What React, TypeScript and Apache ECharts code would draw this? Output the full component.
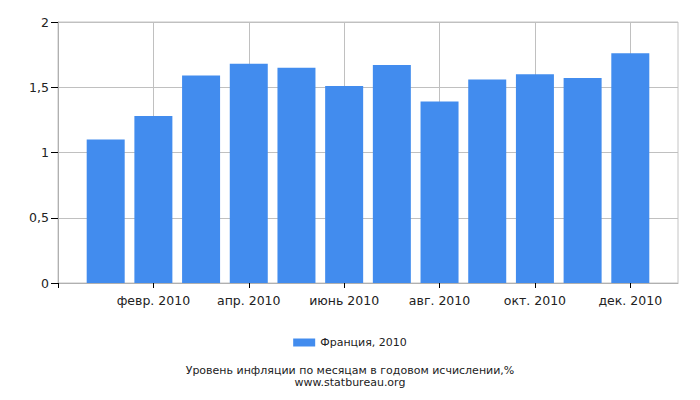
import { useEffect, useRef } from 'react';
import * as echarts from 'echarts';

// ─── Data ─────────────────────────────────────────────────────────────────────

// empty slot at each end so the axis is padded by one month on both sides
const monthLabels = [
  '',
  'янв. 2010',
  'февр. 2010',
  'март 2010',
  'апр. 2010',
  'май 2010',
  'июнь 2010',
  'июль 2010',
  'авг. 2010',
  'сент. 2010',
  'окт. 2010',
  'нояб. 2010',
  'дек. 2010',
  '',
];

const inflationValues = [
  null, 1.1, 1.28, 1.59, 1.68, 1.65, 1.51, 1.67, 1.39, 1.56, 1.6, 1.57, 1.76, null,
];

const yTicks = { min: 0, max: 2, step: 0.5 };

const seriesName = 'Франция, 2010';
const captionTitle = 'Уровень инфляции по месяцам в годовом исчислении,%';
const captionSource = 'www.statbureau.org';

// ─── Option ───────────────────────────────────────────────────────────────────

const FONT = '"DejaVu Sans", Verdana, sans-serif';

function buildOption(): echarts.EChartsOption {
  return {
    animation: false,
    backgroundColor: '#fff',
    textStyle: { fontFamily: FONT },
    grid: {
      left: 58,
      right: 22,
      top: 22,
      bottom: 117,
      show: true,
      borderColor: '#c4c4c4',
      borderWidth: 1,
    },
    legend: {
      data: [seriesName],
      top: 332,
      left: 'center',
      icon: 'rect',
      itemWidth: 22,
      itemHeight: 8,
      itemGap: 4,
      textStyle: { fontFamily: FONT, fontSize: 11, color: '#222' },
    },
    graphic: [
      {
        type: 'text',
        left: 'center',
        top: 365,
        style: { text: captionTitle, font: `11px ${FONT}`, fill: '#222' },
      },
      {
        type: 'text',
        left: 'center',
        top: 377,
        style: { text: captionSource, font: `11px ${FONT}`, fill: '#222' },
      },
    ],
    xAxis: {
      type: 'category',
      data: monthLabels,
      boundaryGap: false,
      axisLine: { lineStyle: { color: '#b0b0b0' } },
      axisTick: { interval: 1, length: 5, lineStyle: { color: '#000' } },
      axisLabel: {
        interval: 1,
        margin: 11,
        fontSize: 12.5,
        color: '#222',
        fontFamily: FONT,
      },
      splitLine: { show: true, interval: 1, lineStyle: { color: '#c0c0c0' } },
    },
    yAxis: {
      type: 'value',
      min: yTicks.min,
      max: yTicks.max,
      interval: yTicks.step,
      axisLine: { show: true, lineStyle: { color: '#b0b0b0' } },
      axisTick: { show: true, length: 7, lineStyle: { color: '#000' } },
      axisLabel: {
        margin: 9,
        fontSize: 12.5,
        color: '#222',
        fontFamily: FONT,
        formatter: (v: number) => String(v).replace('.', ','),
      },
      splitLine: { lineStyle: { color: '#c0c0c0' } },
    },
    series: [
      {
        name: seriesName,
        type: 'bar',
        data: inflationValues,
        barWidth: 38,
        itemStyle: { color: '#428CEE' },
      },
    ],
  };
}

// ─── Chart ────────────────────────────────────────────────────────────────────

export default function App() {
  const containerRef = useRef<HTMLDivElement>(null);

  useEffect(() => {
    if (!containerRef.current) return;
    const chart = echarts.init(containerRef.current, null, { renderer: 'svg' });
    chart.setOption(buildOption());
    return () => chart.dispose();
  }, []);

  return (
    <div
      ref={containerRef}
      style={{ position: 'absolute', left: 0, top: 0, width: 700, height: 400 }}
    />
  );
}
